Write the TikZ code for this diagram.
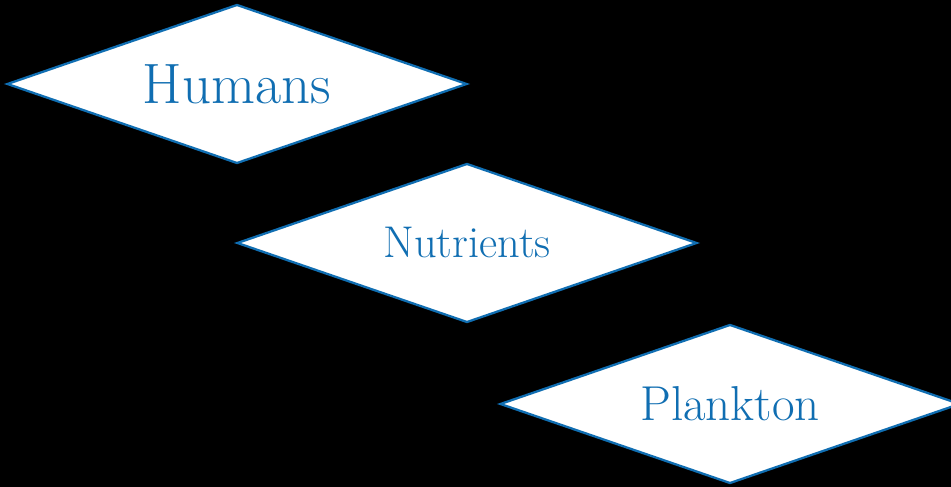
\documentclass[tikz,border=0pt]{standalone}
\usepackage{tikz}
\usetikzlibrary{shapes.geometric}
\definecolor{nodeblue}{RGB}{16,110,178}
\begin{document}
\begin{tikzpicture}[line join=miter, box/.style={diamond, aspect=2.9, draw=nodeblue, fill=white, line width=1.3pt, text=nodeblue, inner sep=0pt, minimum width=9.2cm, minimum height=3.18cm}]
\fill[black] (0,0) rectangle (19.02,-9.74);
\useasboundingbox (0,0) rectangle (19.02,-9.74);
\coordinate (h) at (4.74,-1.68); \coordinate (n) at (9.34,-4.86); \coordinate (p) at (14.6,-8.08);
\node[box, font=\fontsize{32.4}{38}\selectfont] (Humans) at (h) {Humans};
\node[box, font=\fontsize{25.3}{30}\selectfont] (Nutrients) at (n) {Nutrients};
\node[box, font=\fontsize{27.9}{33}\selectfont] (Plankton) at (p) {Plankton};
\end{tikzpicture}
\end{document}
